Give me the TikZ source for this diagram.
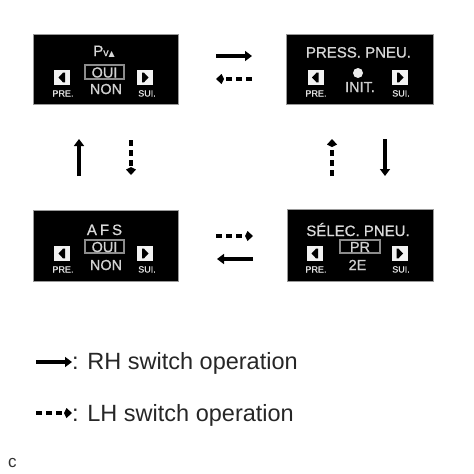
\documentclass[tikz,border=0pt]{standalone}
\usepackage{fontspec}
\setmainfont{Liberation Sans}
\newfontfamily\scrfont[FakeBold=0.8]{Liberation Sans}
\newfontfamily\symfont{DejaVu Sans}
\usetikzlibrary{arrows.meta}
\begin{document}
\begin{tikzpicture}[x=1pt,y=-1pt,
 screen/.style={fill=black, draw=black!40, line width=0.8pt, inner sep=0pt},
 ttl/.style={text=black!15, font=\scrfont\fontsize{15}{15}\selectfont, inner sep=0pt, anchor=base},
 val/.style={text=black!18, font=\scrfont\fontsize{14.5}{14.5}\selectfont, inner sep=0pt, anchor=base},
 sel/.style={draw=black!45, line width=1.4pt, inner sep=0pt},
 lbl/.style={text=black!12, font=\scrfont\fontsize{9}{9}\selectfont, inner sep=0pt, anchor=base},
 rh/.style={line width=3.3pt, -{Triangle[length=7pt,width=10pt]}},
 lh/.style={line width=3.3pt, dash pattern=on 6pt off 4pt, -{Kite[length=8pt,width=10pt,inset=2.5pt]}},
 legend/.style={font=\fontsize{23.5}{23.5}\selectfont, text=black!85, inner sep=0pt, anchor=base west},
 keyL/.pic={\fill[black!5] (-8,-7.5) rectangle (8,7.5);
            \fill[black] (-3.5,0) -- (1,-4.8) -- (3,-4.8) -- (3,4.8) -- (1,4.8) -- cycle;},
 keyR/.pic={\fill[black!5] (-8,-7.5) rectangle (8,7.5);
            \fill[black] (3.5,0) -- (-1,-4.8) -- (-3,-4.8) -- (-3,4.8) -- (-1,4.8) -- cycle;}
]
\useasboundingbox (0,0) rectangle (474,474);

% ---------- screens ----------
\node[screen, minimum width=145pt, minimum height=70pt] (s1) at (105.5,69) {};
\node[screen, minimum width=147pt, minimum height=70pt] (s2) at (359.5,69) {};
\node[screen, minimum width=145pt, minimum height=71pt] (s3) at (105.5,245.5) {};
\node[screen, minimum width=146pt, minimum height=72pt] (s4) at (360,245) {};

% screen 1 : Pv
\node[ttl] (t1) at (104,56) {P{\fontsize{10.5}{10.5}\selectfont v}{\symfont\fontsize{8}{8}\selectfont ▲}};
\node[sel, minimum width=39pt, minimum height=14pt] (o1) at (104.5,72) {};
\node[val] (v1a) at (104.5,77.5) {OUI};
\node[val] (v1b) at (106,94) {NON};
\pic at (62,77.5) {keyL};
\pic at (145,77.5) {keyR};
\node[lbl] (p1) at (63,96.5) {PRE.};
\node[lbl] (n1) at (147,96.5) {SUI.};

% screen 2 : PRESS. PNEU.
\node[ttl] (t2) at (358.5,57.5) {PRESS. PNEU.};
\fill[black!8] (358,73) circle (5pt);
\node[val] (v2) at (360,92) {INIT.};
\pic at (315.5,77.5) {keyL};
\pic at (400,77.5) {keyR};
\node[lbl] (p2) at (316,96.5) {PRE.};
\node[lbl] (n2) at (401,96.5) {SUI.};

% screen 3 : AFS
\node[ttl] (t3) at (104.5,235) {A\hspace{3pt}F\hspace{3pt}S};
\node[sel, minimum width=39pt, minimum height=13pt] (o3) at (104.5,246.5) {};
\node[val] (v3a) at (104.5,252) {OUI};
\node[val] (v3b) at (106,270) {NON};
\pic at (62,253.5) {keyL};
\pic at (145,253.5) {keyR};
\node[lbl] (p3) at (63,272.5) {PRE.};
\node[lbl] (n3) at (147,272.5) {SUI.};

% screen 4 : SELEC. PNEU.
\node[ttl] (t4) at (358,236) {SÉLEC. PNEU.};
\node[sel, minimum width=40pt, minimum height=13pt] (o4) at (360,246.5) {};
\node[val] (v4a) at (360,252) {PR};
\node[val] (v4b) at (357.5,270) {2E};
\pic at (315,253.5) {keyL};
\pic at (399.5,253.5) {keyR};
\node[lbl] (p4) at (316,272.5) {PRE.};
\node[lbl] (n4) at (401,272.5) {SUI.};

% ---------- transition arrows ----------
\coordinate (a1s) at (216,56);  \coordinate (a1e) at (252,56);
\coordinate (a2s) at (252,79);  \coordinate (a2e) at (216,79);
\coordinate (a3s) at (79,176);  \coordinate (a3e) at (79,139);
\coordinate (a4s) at (131,140); \coordinate (a4e) at (131,175);
\coordinate (a5s) at (332,176); \coordinate (a5e) at (332,139);
\coordinate (a6s) at (385,139); \coordinate (a6e) at (385,176);
\coordinate (a7s) at (216,236); \coordinate (a7e) at (253,236);
\coordinate (a8s) at (253,259); \coordinate (a8e) at (217,259);
\draw[rh] (a1s) -- (a1e);
\draw[lh] (a2s) -- (a2e);
\draw[rh] (a3s) -- (a3e);
\draw[lh] (a4s) -- (a4e);
\draw[lh] (a5s) -- (a5e);
\draw[rh] (a6s) -- (a6e);
\draw[lh] (a7s) -- (a7e);
\draw[rh] (a8s) -- (a8e);

% ---------- legend ----------
\coordinate (l1s) at (36,362); \coordinate (l1e) at (72,362);
\coordinate (l2s) at (36,413); \coordinate (l2e) at (72,413);
\draw[rh] (l1s) -- (l1e);
\draw[lh] (l2s) -- (l2e);
\node[legend] (lt1) at (72,369) {: RH switch operation};
\node[legend] (lt2) at (72,421) {: LH switch operation};

\node[font=\fontsize{17}{17}\selectfont, text=black!80, inner sep=0pt, anchor=base west] (c) at (8,467) {c};
\end{tikzpicture}
\end{document}
